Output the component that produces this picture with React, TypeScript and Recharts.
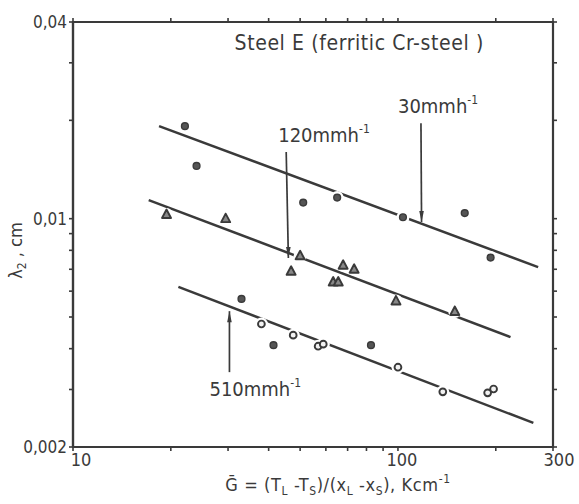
import { ReferenceDot, ReferenceLine, Scatter, ScatterChart, XAxis, YAxis } from "recharts";

// G (K/cm) and lambda2 (cm)
const dots30 = [
  { x: 22.1, y: 0.0192 },
  { x: 24.0, y: 0.0145 },
  { x: 51.1, y: 0.0112 },
  { x: 65.0, y: 0.0116 },
  { x: 103.6, y: 0.0101 },
  { x: 160.5, y: 0.0104 },
  { x: 192.8, y: 0.0076 }
];
const tri120 = [
  { x: 19.4, y: 0.0103 },
  { x: 29.5, y: 0.01 },
  { x: 50.0, y: 0.0077 },
  { x: 46.9, y: 0.0069 },
  { x: 67.8, y: 0.0072 },
  { x: 73.3, y: 0.007 },
  { x: 63.2, y: 0.0064 },
  { x: 65.5, y: 0.0064 },
  { x: 98.6, y: 0.0056 },
  { x: 149.6, y: 0.0052 }
];
const rings510 = [
  { x: 38.0, y: 0.00476 },
  { x: 47.6, y: 0.0044 },
  { x: 56.8, y: 0.00407 },
  { x: 58.9, y: 0.00413 },
  { x: 100, y: 0.00351 },
  { x: 137.4, y: 0.00295 },
  { x: 188.8, y: 0.00293 },
  { x: 196.9, y: 0.00301 }
];
const dots510 = [
  { x: 33.0, y: 0.00568 },
  { x: 41.4, y: 0.0041 },
  { x: 82.6, y: 0.0041 }
];

const fit30 = [{ x: 18.4, y: 0.0192 }, { x: 270, y: 0.00711 }];
const fit120 = [{ x: 17.1, y: 0.0114 }, { x: 222, y: 0.00434 }];
const fit510 = [{ x: 21.1, y: 0.00618 }, { x: 261, y: 0.00237 }];

const arrow30 = [{ x: 117.7, y: 0.0196 }, { x: 118.2, y: 0.00977 }];
const arrow120 = [{ x: 45.3, y: 0.016 }, { x: 46.0, y: 0.00758 }];
const arrow510 = [{ x: 30.3, y: 0.00339 }, { x: 30.3, y: 0.00521 }];
const arrowLabels = ["30mmh", "120mmh", "510mmh"];

const xTicks = [10, 20, 30, 40, 50, 60, 70, 80, 90, 100, 200, 300];
const xLabelValues = [10, 100, 300];
const yTicks = [0.002, 0.003, 0.004, 0.005, 0.006, 0.007, 0.008, 0.009, 0.01, 0.02, 0.03, 0.04];
const yLabelValues = [0.002, 0.01, 0.04];
const yLabelText = ["0,002", "0,01", "0,04"];

const xDomain = [10, 300];
const yDomain = [0.002, 0.04];

const title = "Steel E (ferritic Cr-steel )";

const allPoints = [...dots30, ...tri120, ...rings510, ...dots510];

// frame corners in drawing order, and tick anchors on the top / right edges
const frameCorners = [
  { x: xDomain[0], y: yDomain[0] },
  { x: xDomain[0], y: yDomain[1] },
  { x: xDomain[1], y: yDomain[1] },
  { x: xDomain[1], y: yDomain[0] },
  { x: xDomain[0], y: yDomain[0] }
];
const topTickPoints = xTicks.map((v) => ({ x: v, y: yDomain[1] }));
const rightTickPoints = yTicks.map((v) => ({ x: xDomain[1], y: v }));

const INK = "#3a3a3a";
const FONT = "'DejaVu Sans Condensed', 'Liberation Sans Narrow', 'DejaVu Sans', sans-serif";
const MARGIN = { top: 22, right: 26, bottom: 0, left: 0 };
const W = 579;
const H = 504;
const X_AXIS_H = 57;
const Y_AXIS_W = 73;

// white halo behind every marker: the fitted lines break around the points
const Halo = (p: any) => <circle cx={p.cx} cy={p.cy} r={6.5} fill="#fff" />;
const FilledDot = (p: any) => (
  <circle cx={p.cx} cy={p.cy} r={3.4} fill="#555" stroke={INK} strokeWidth={1.4} />
);
const Ring = (p: any) => (
  <circle cx={p.cx} cy={p.cy} r={3.4} fill="#f2f2f2" stroke={INK} strokeWidth={1.9} />
);
const Tri = (p: any) => (
  <polygon
    points={`${p.cx},${p.cy - 5} ${p.cx - 4.5},${p.cy + 3.5} ${p.cx + 4.5},${p.cy + 3.5}`}
    fill="#888"
    stroke={INK}
    strokeWidth={1.9}
    strokeLinejoin="round"
  />
);
const NoMark = () => <g />;
const TopTick = (p: any) => (
  <line x1={p.cx} x2={p.cx} y1={p.cy - 4} y2={p.cy} stroke={INK} strokeWidth={1.6} />
);
const RightTick = (p: any) => (
  <line x1={p.cx} x2={p.cx + 4} y1={p.cy} y2={p.cy} stroke={INK} strokeWidth={1.6} />
);

function arrowShape(label: string, labelDx: number, labelDy: number, up: boolean) {
  return (p: any) => {
    const { x1, y1, x2, y2 } = p;
    const top = y1 < y2 ? { x: x1, y: y1 } : { x: x2, y: y2 };
    const bot = y1 < y2 ? { x: x2, y: y2 } : { x: x1, y: y1 };
    const tip = up ? top : bot;
    const base = up ? bot : top;
    const d = up ? 1 : -1;
    return (
      <g>
        <line x1={base.x} y1={base.y} x2={tip.x} y2={tip.y} stroke={INK} strokeWidth={1.7} />
        <polygon
          points={`${tip.x},${tip.y} ${tip.x - 2.3},${tip.y + d * 11} ${tip.x + 2.3},${tip.y + d * 11}`}
          fill={INK}
        />
        <text x={base.x + labelDx} y={base.y + labelDy} fontFamily={FONT} fontSize={20} fill={INK}>
          {label}
          <tspan dy={-9} fontSize={12}>-1</tspan>
        </text>
      </g>
    );
  };
}

const XTick = (p: any) => {
  const v = p.payload.value;
  if (!xLabelValues.includes(v)) return <g />;
  const dx = v === 10 ? 8 : v === 300 ? 6 : 4;
  return (
    <text x={p.x + dx} y={p.y} dy="0.71em" textAnchor="middle" fontFamily={FONT} fontSize={18} fill={INK}>
      {v}
    </text>
  );
};

const YTick = (p: any) => {
  const i = yLabelValues.indexOf(p.payload.value);
  if (i < 0) return <g />;
  return (
    <text x={p.x} y={p.y} dy="0.35em" textAnchor="end" fontFamily={FONT} fontSize={17} fill={INK}>
      {yLabelText[i]}
    </text>
  );
};

const XTitle = (p: any) => {
  const vb = p.viewBox;
  const cx = vb.x + vb.width / 2 + 25;
  const cy = 491;
  return (
    <text x={cx} y={cy} textAnchor="middle" fontFamily={FONT} fontSize={18} letterSpacing={0.6} fill={INK}>
      {"G\u0304 = (T"}
      <tspan dy={4} fontSize={12}>L</tspan>
      <tspan dy={-4}>{" -T"}</tspan>
      <tspan dy={4} fontSize={12}>S</tspan>
      <tspan dy={-4}>{")/(x"}</tspan>
      <tspan dy={4} fontSize={12}>L</tspan>
      <tspan dy={-4}>{" -x"}</tspan>
      <tspan dy={4} fontSize={12}>S</tspan>
      <tspan dy={-4}>{"), Kcm"}</tspan>
      <tspan dy={-8} fontSize={12}>-1</tspan>
    </text>
  );
};

const YTitle = (p: any) => {
  const vb = p.viewBox;
  const x = 22;
  const y = vb.y + vb.height / 2 + 16;
  return (
    <text x={x} y={y} transform={`rotate(-90, ${x}, ${y})`} textAnchor="middle" fontFamily={FONT} fontSize={18} fill={INK}>
      {"\u03bb"}
      <tspan dy={4} fontSize={12}>2</tspan>
      <tspan dy={-4}>{" , cm"}</tspan>
    </text>
  );
};

const axisLine = { stroke: INK, strokeWidth: 2.2 };
const tickLine = { stroke: INK, strokeWidth: 1.6 };

export default function App() {
  return (
    <div style={{ position: "absolute", left: 0, top: 0, width: W, height: H, background: "#fff" }}>
      <ScatterChart width={W} height={H} margin={MARGIN}>
        <XAxis
          xAxisId="b"
          type="number"
          dataKey="x"
          scale="log"
          domain={xDomain}
          ticks={xTicks}
          height={X_AXIS_H}
          stroke={INK}
          axisLine={axisLine}
          tickLine={tickLine}
          tickSize={4}
          tick={XTick}
          interval={0}
          label={{ content: XTitle }}
        />
        <YAxis
          yAxisId="l"
          type="number"
          dataKey="y"
          scale="log"
          domain={yDomain}
          ticks={yTicks}
          width={Y_AXIS_W}
          stroke={INK}
          axisLine={axisLine}
          tickLine={tickLine}
          tickSize={4}
          interval={0}
          tick={YTick}
          label={{ content: YTitle }}
        />

        <ReferenceLine xAxisId="b" yAxisId="l" segment={fit30} stroke={INK} strokeWidth={2.5} />
        <ReferenceLine xAxisId="b" yAxisId="l" segment={fit120} stroke={INK} strokeWidth={2.5} />
        <ReferenceLine xAxisId="b" yAxisId="l" segment={fit510} stroke={INK} strokeWidth={2.5} />

        <ReferenceLine xAxisId="b" yAxisId="l" segment={arrow30} shape={arrowShape(arrowLabels[0], -23, -10, false)} />
        <ReferenceLine xAxisId="b" yAxisId="l" segment={arrow120} shape={arrowShape(arrowLabels[1], -8, -10, false)} />
        <ReferenceLine xAxisId="b" yAxisId="l" segment={arrow510} shape={arrowShape(arrowLabels[2], -20, 24, true)} />

        <ReferenceDot
          xAxisId="b"
          yAxisId="l"
          x={76}
          y={0.0345}
          r={0}
          shape={(p: any) => (
            <text x={p.cx} y={p.cy} dy="0.35em" textAnchor="middle" fontFamily={FONT} fontSize={21} letterSpacing={0.6} fill={INK}>
              {title}
            </text>
          )}
        />

        <Scatter xAxisId="b" yAxisId="l" data={allPoints} shape={Halo} isAnimationActive={false} />
        <Scatter xAxisId="b" yAxisId="l" data={dots30} shape={FilledDot} isAnimationActive={false} />
        <Scatter xAxisId="b" yAxisId="l" data={tri120} shape={Tri} isAnimationActive={false} />
        <Scatter xAxisId="b" yAxisId="l" data={rings510} shape={Ring} isAnimationActive={false} />
        <Scatter xAxisId="b" yAxisId="l" data={dots510} shape={FilledDot} isAnimationActive={false} />

        <Scatter
          xAxisId="b"
          yAxisId="l"
          data={frameCorners}
          line={{ stroke: INK, strokeWidth: 2.2 }}
          lineType="joint"
          shape={NoMark}
          isAnimationActive={false}
        />
        <Scatter xAxisId="b" yAxisId="l" data={topTickPoints} shape={TopTick} isAnimationActive={false} />
        <Scatter xAxisId="b" yAxisId="l" data={rightTickPoints} shape={RightTick} isAnimationActive={false} />
      </ScatterChart>
      <div
        style={{
          position: "absolute",
          left: Y_AXIS_W - 1,
          top: MARGIN.top - 1,
          width: W - MARGIN.right - Y_AXIS_W + 2,
          height: H - X_AXIS_H - MARGIN.top + 2,
          border: `2px solid ${INK}`,
          boxSizing: "border-box",
          pointerEvents: "none"
        }}
      />
    </div>
  );
}
